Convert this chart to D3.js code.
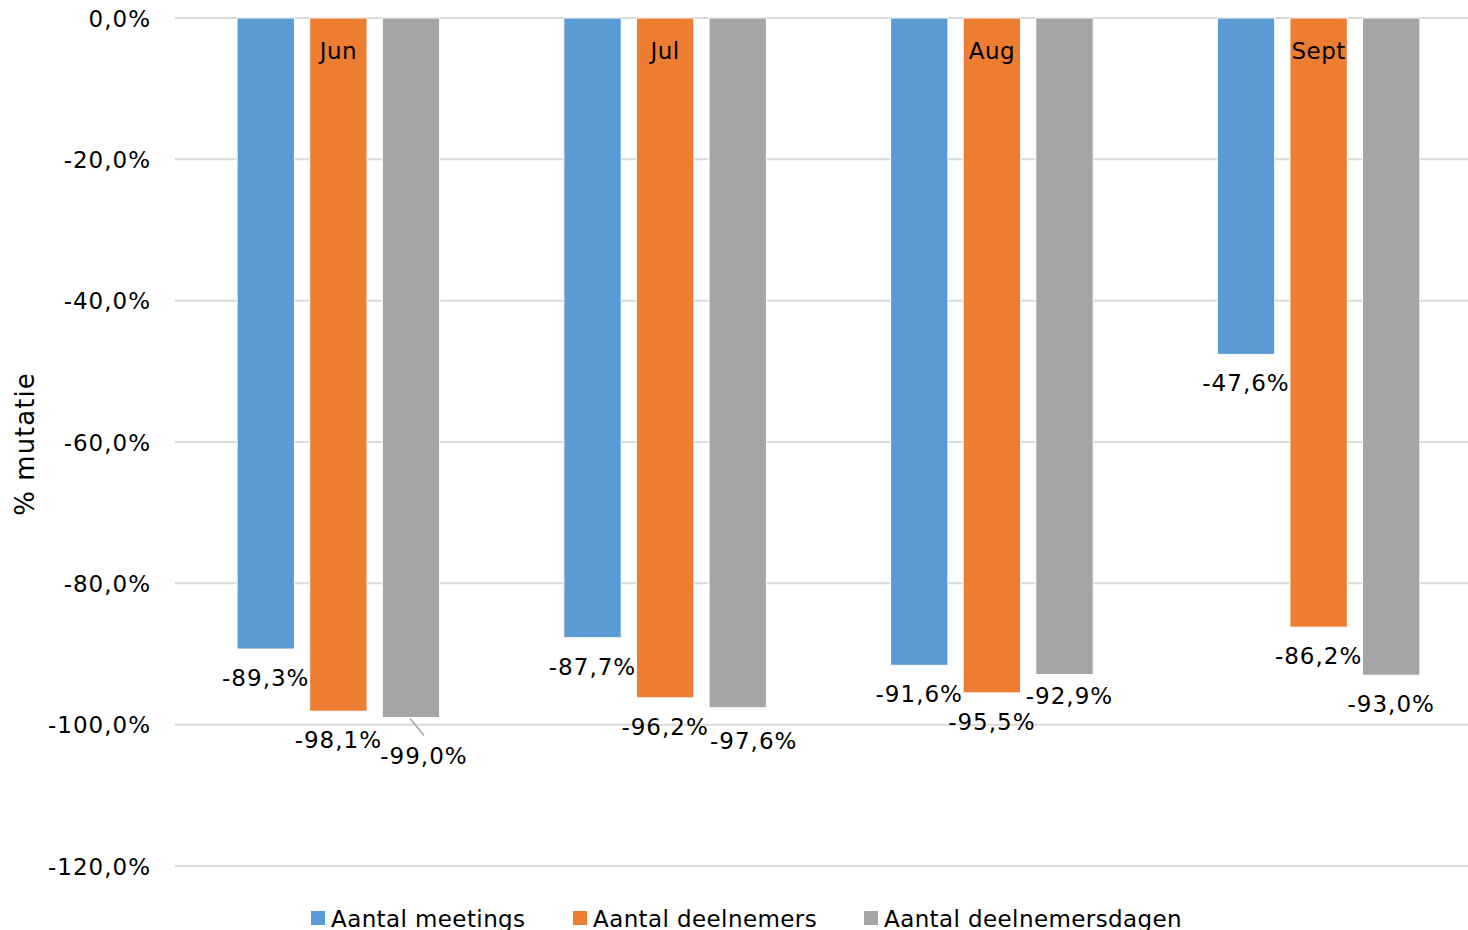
<!DOCTYPE html>
<html>
<head>
<meta charset="utf-8">
<script src="https://cdn.jsdelivr.net/npm/d3@7"></script>
<style>
  html, body { margin: 0; padding: 0; background: #fff; }
  svg { display: block; }
  text { font-family: "DejaVu Sans", Verdana, sans-serif; fill: #000; }
</style>
</head>
<body>
<svg id="chart" width="1468" height="930"></svg>
<script>
// ---- data ----
const categories = ["Jun", "Jul", "Aug", "Sept"];
const seriesNames = ["Aantal meetings", "Aantal deelnemers", "Aantal deelnemersdagen"];
const meetings = [-89.3, -87.7, -91.6, -47.6];
const deelnemers = [-98.1, -96.2, -95.5, -86.2];
const deelnemersdagen = [-99.0, -97.6, -92.9, -93.0];
const yTicks = [0, -20, -40, -60, -80, -100, -120];
const yTitle = "% mutatie";

// ---- layout / style ----
const colors = ["#5b9bd5", "#ed7d31", "#a5a5a5"];
const W = 1468, H = 930;
const plotLeft = 175, plotRightRange = 1482, plotTop = 18, plotBottom = 866;
const fontSize = 23;
const labelDy = 37;
// manual label nudges [series-category] -> [dx, extra dy]
const nudges = {
  "2-0": [13, 9],
  "2-1": [16, 4],
  "2-2": [5, -7]
};

const seriesValues = [meetings, deelnemers, deelnemersdagen];
const fmt = v => d3.format(".1f")(v).replace("−", "-").replace(".", ",") + "%";

const svg = d3.select("#chart");

const x0 = d3.scaleBand().domain(categories).range([plotLeft, plotRightRange])
  .paddingInner(0.38).paddingOuter(0.19);
const x1 = d3.scaleBand().domain(d3.range(seriesNames.length))
  .range([0, x0.bandwidth()]).paddingInner(0.21).paddingOuter(0);
const y = d3.scaleLinear().domain([0, -120]).range([plotTop, plotBottom]);

// gridlines
svg.append("g").selectAll("line").data(yTicks).join("line")
  .attr("x1", plotLeft).attr("x2", W)
  .attr("y1", d => y(d)).attr("y2", d => y(d))
  .attr("stroke", "#d9d9d9").attr("stroke-width", 2);

// y axis labels
const yAxis = d3.axisLeft(y).tickValues(yTicks).tickSize(0).tickPadding(0).tickFormat(fmt);
const gy = svg.append("g").attr("transform", `translate(151,0)`).call(yAxis);
gy.select(".domain").remove();
gy.selectAll("text").attr("font-size", fontSize).attr("font-family", "DejaVu Sans, Verdana, sans-serif")
  .attr("fill", "#000").attr("dy", "0.36em").attr("letter-spacing", "1px");

// y title
svg.append("text")
  .attr("transform", `translate(34,${(y(-60) + 2)}) rotate(-90)`)
  .attr("text-anchor", "middle")
  .attr("font-size", 26)
  .attr("letter-spacing", "1px")
  .text(yTitle);

// bars
const groups = svg.append("g").selectAll("g").data(categories).join("g")
  .attr("transform", d => `translate(${x0(d)},0)`);

groups.selectAll("rect")
  .data((c, ci) => seriesValues.map((vals, si) => ({ si, ci, v: vals[ci] })))
  .join("rect")
  .attr("x", d => x1(d.si))
  .attr("width", x1.bandwidth())
  .attr("y", d => y(0))
  .attr("height", d => y(d.v) - y(0))
  .attr("fill", d => colors[d.si])
  .attr("stroke", "#fff").attr("stroke-width", 1);

// category labels (axis at zero, labels inside below the axis)
const xAxis = d3.axisBottom(x0).tickSize(0).tickPadding(0);
const gx = svg.append("g").attr("transform", `translate(0,${y(0)})`).call(xAxis);
gx.select(".domain").remove();
gx.selectAll("text").attr("font-size", fontSize).attr("font-family", "DejaVu Sans, Verdana, sans-serif")
  .attr("fill", "#000").attr("dy", 0).attr("y", 41).attr("letter-spacing", "0.5px");

// data labels
const labelData = [];
seriesValues.forEach((vals, si) => vals.forEach((v, ci) => labelData.push({ si, ci, v })));
const lg = svg.append("g");
labelData.forEach(d => {
  const cx = x0(categories[d.ci]) + x1(d.si) + x1.bandwidth() / 2;
  const nd = nudges[d.si + "-" + d.ci] || [0, 0];
  const ly = y(d.v) + labelDy + nd[1];
  if (d.si === 2 && d.ci === 0) {
    lg.append("line")
      .attr("x1", cx - 1).attr("y1", y(d.v) + 1)
      .attr("x2", cx + nd[0]).attr("y2", y(d.v) + 18)
      .attr("stroke", "#a5a5a5").attr("stroke-width", 1.5);
  }
  lg.append("text")
    .attr("x", cx + nd[0]).attr("y", ly)
    .attr("text-anchor", "middle")
    .attr("font-size", fontSize)
    .attr("letter-spacing", "1px")
    .text(fmt(d.v));
});

// legend
const legendX = [311, 573, 864];
const leg = svg.append("g").selectAll("g").data(seriesNames).join("g")
  .attr("transform", (d, i) => `translate(${legendX[i]},911)`);
leg.append("rect").attr("width", 14).attr("height", 14).attr("fill", (d, i) => colors[i]);
leg.append("text").attr("x", 20).attr("y", 16).attr("font-size", fontSize).attr("letter-spacing", "0.4px").text(d => d);
</script>
</body>
</html>
